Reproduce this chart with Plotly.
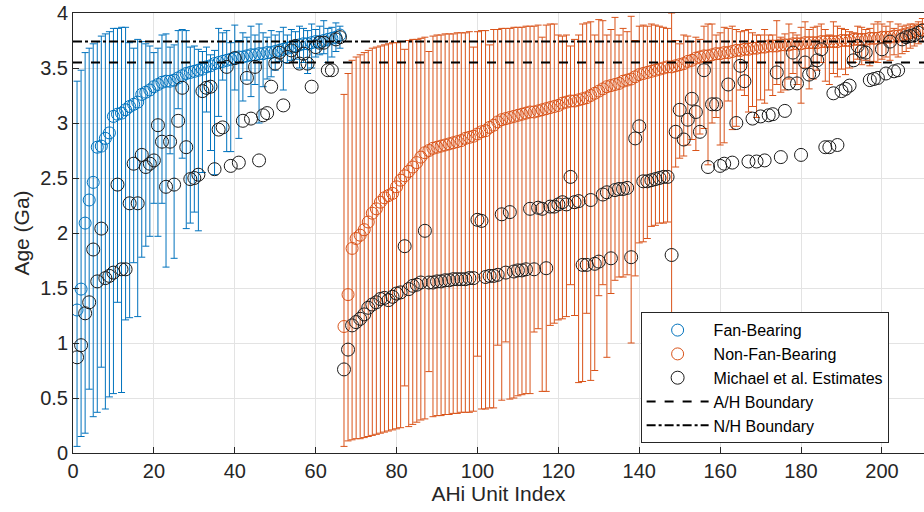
import plotly.graph_objects as go

# ---------------- data ----------------
fan_idx = list(range(1, 67))
fan_age = [1.30, 1.49, 2.09, 2.30, 2.46, 2.78, 2.79, 2.86, 2.91, 3.06,
           3.08, 3.09, 3.12, 3.15, 3.17, 3.19, 3.26, 3.28, 3.30, 3.33,
           3.35, 3.37, 3.38, 3.38, 3.39, 3.41, 3.43, 3.45, 3.46, 3.47,
           3.48, 3.49, 3.51, 3.52, 3.54, 3.55, 3.56, 3.57, 3.58, 3.59,
           3.60, 3.60, 3.61, 3.62, 3.62, 3.63, 3.63, 3.64, 3.64, 3.65,
           3.66, 3.67, 3.68, 3.69, 3.70, 3.71, 3.72, 3.72, 3.73, 3.74,
           3.74, 3.75, 3.76, 3.77, 3.78, 3.80]
fan_lo = [0.06, 0.15, 0.18, 0.58, 0.33, 0.37, 0.78, 0.40, 0.51, 0.54,
          1.37, 0.55, 1.21, 1.23, 1.73, 1.24, 1.78, 1.88, 1.97, 2.27,
          1.97, 2.27, 1.69, 2.72, 1.77, 3.13, 2.68, 2.04, 2.09, 2.19,
          2.02, 2.55, 3.10, 2.75, 2.53, 3.06, 3.39, 2.74, 2.74, 3.30,
          2.86, 3.20, 3.39, 3.24, 3.35, 3.00, 3.33, 3.40, 3.42, 3.48,
          3.56, 3.30, 3.55, 3.57, 3.58, 3.50, 3.55, 3.45, 3.50, 3.60,
          3.62, 3.63, 3.55, 3.60, 3.65, 3.68]
fan_hi = [3.38, 3.48, 3.64, 3.68, 3.72, 3.74, 3.79, 3.81, 3.83, 3.86,
          3.86, 3.87, 3.87, 3.73, 3.68, 3.76, 3.74, 3.72, 3.70, 3.64,
          3.68, 3.80, 3.81, 3.69, 3.71, 3.84, 3.85, 3.84, 3.69, 3.70,
          3.67, 3.65, 3.69, 3.62, 3.66, 3.86, 3.82, 3.84, 3.73, 3.89,
          3.75, 3.82, 3.78, 3.88, 3.80, 3.90, 3.82, 3.78, 3.84, 3.80,
          3.83, 3.87, 3.80, 3.85, 3.83, 3.88, 3.86, 3.84, 3.90, 3.85,
          3.88, 3.93, 3.86, 3.87, 3.91, 3.88]

nonfan_idx = list(range(67, 211))
nonfan_age = [1.15, 1.44, 1.86, 1.95, 1.98, 2.03, 2.10, 2.18, 2.22, 2.28,
              2.32, 2.34, 2.36, 2.42, 2.48, 2.52, 2.56, 2.60, 2.64, 2.69,
              2.73, 2.75, 2.77, 2.78, 2.79, 2.80, 2.81, 2.82, 2.83, 2.84,
              2.86, 2.87, 2.88, 2.90, 2.92, 2.93, 2.96, 2.98, 3.01, 3.03,
              3.04, 3.05, 3.06, 3.07, 3.08, 3.09, 3.10, 3.10, 3.11, 3.12,
              3.13, 3.14, 3.15, 3.16, 3.18, 3.19, 3.20, 3.20, 3.21, 3.22,
              3.23, 3.25, 3.27, 3.29, 3.31, 3.33, 3.34, 3.35, 3.36, 3.38,
              3.39, 3.40, 3.42, 3.44, 3.45, 3.46, 3.47, 3.48, 3.49, 3.50,
              3.51, 3.51, 3.52, 3.53, 3.54, 3.56, 3.57, 3.59, 3.60, 3.61,
              3.61, 3.62, 3.63, 3.63, 3.64, 3.64, 3.65, 3.66, 3.66, 3.67,
              3.67, 3.68, 3.68, 3.69, 3.69, 3.70, 3.70, 3.70, 3.71, 3.71,
              3.71, 3.72, 3.72, 3.72, 3.73, 3.73, 3.73, 3.73, 3.74, 3.74,
              3.74, 3.74, 3.74, 3.75, 3.75, 3.75, 3.76, 3.76, 3.76, 3.76,
              3.77, 3.77, 3.77, 3.78, 3.78, 3.78, 3.79, 3.79, 3.80, 3.81,
              3.82, 3.83, 3.84, 3.85]
nonfan_lo = [0.06, 0.11, 0.12, 0.13, 0.13, 0.14, 0.15, 0.16, 0.17, 0.18,
             0.19, 0.20, 0.21, 0.22, 0.23, 0.61, 0.24, 0.26, 0.28, 0.30,
             0.31, 0.74, 0.33, 0.34, 0.34, 0.35, 0.35, 0.36, 0.36, 0.37,
             0.37, 0.37, 0.38, 0.88, 0.40, 0.40, 0.41, 0.41, 0.98, 0.48,
             1.01, 0.49, 0.50, 0.52, 0.53, 0.54, 0.54, 1.10, 1.13, 0.56,
             0.56, 1.16, 1.18, 1.21, 1.22, 1.24, 1.53, 1.25, 0.64, 0.65,
             1.27, 0.66, 0.75, 1.43, 1.53, 0.87, 1.45, 1.57, 1.60, 1.60,
             1.62, 1.00, 1.61, 1.91, 1.92, 1.95, 2.06, 2.07, 2.09, 2.09,
             2.10, 0.90, 2.60, 2.68, 2.70, 2.80, 2.85, 2.75, 2.90, 2.95,
             2.62, 3.00, 3.05, 2.80, 2.82, 3.20, 2.94, 2.97, 3.30, 3.25,
             3.10, 3.15, 3.05, 3.21, 3.18, 3.30, 3.25, 3.35, 3.28, 3.30,
             3.40, 3.45, 3.35, 3.18, 3.50, 3.31, 3.40, 3.48, 3.55, 3.38,
             3.35, 3.45, 3.42, 3.49, 3.44, 3.50, 3.55, 3.58, 3.53, 3.57,
             3.52, 3.56, 3.55, 3.58, 3.60, 3.57, 3.62, 3.60, 3.63, 3.65,
             3.68, 3.70, 3.72, 3.74]
nonfan_hi = [3.26, 3.45, 3.57, 3.60, 3.62, 3.64, 3.66, 3.68, 3.69, 3.70,
             3.71, 3.72, 3.73, 3.73, 3.74, 3.67, 3.75, 3.76, 3.76, 3.77,
             3.78, 3.65, 3.79, 3.80, 3.80, 3.81, 3.81, 3.81, 3.82, 3.82,
             3.82, 3.83, 3.69, 3.83, 3.84, 3.84, 3.71, 3.85, 3.85, 3.86,
             3.86, 3.86, 3.87, 3.87, 3.87, 3.88, 3.88, 3.88, 3.89, 3.78,
             3.89, 3.90, 3.90, 3.80, 3.79, 3.80, 3.70, 3.76, 3.80, 3.90,
             3.91, 3.92, 3.80, 3.94, 3.93, 3.80, 3.85, 3.96, 3.80, 3.86,
             3.83, 3.97, 3.75, 3.88, 3.89, 3.88, 3.90, 3.89, 3.88, 3.87,
             3.86, 4.00, 3.75, 3.72, 3.80, 3.79, 3.74, 3.78, 3.76, 3.88,
             3.90, 3.90, 3.80, 3.82, 3.87, 3.86, 3.88, 3.85, 3.83, 3.84,
             3.85, 3.82, 3.80, 3.80, 3.85, 3.80, 3.80, 3.93, 3.78, 3.81,
             3.90, 3.82, 3.80, 3.87, 3.92, 3.85, 3.87, 3.88, 3.90, 3.85,
             3.80, 3.92, 3.88, 3.86, 3.85, 3.83, 3.82, 3.88, 3.87, 3.85,
             3.86, 3.90, 3.92, 3.90, 3.88, 3.92, 3.86, 3.90, 3.88, 3.89,
             3.90, 3.90, 3.92, 3.95]

michael_fan = [0.87, 0.98, 1.27, 1.37, 1.85, 1.56, 2.04, 1.59, 1.61, 1.64,
               2.44, 1.67, 1.67, 2.27, 2.63, 2.27, 2.71, 2.60, 2.63, 2.66,
               2.98, 2.83, 2.42, 2.83, 2.44, 3.02, 3.32, 2.78, 2.49, 2.50,
               2.53, 3.29, 3.32, 3.33, 2.58, 2.94, 2.96, 3.51, 2.61, 3.59,
               2.64, 3.02, 3.41, 3.04, 3.51, 2.66, 3.07, 3.09, 3.33, 3.54,
               3.64, 3.16, 3.60, 3.66, 3.70, 3.54, 3.63, 3.54, 3.33, 3.69,
               3.73, 3.73, 3.48, 3.48, 3.76, 3.78]
michael_nonfan = [0.76, 0.94, 1.16, 1.19, 1.22, 1.26, 1.32, 1.35, 1.37, 1.40,
                  1.41, 1.39, 1.42, 1.45, 1.46, 1.88, 1.49, 1.52, 1.53, 1.55,
                  2.02, 1.55, 1.55, 1.56, 1.56, 1.57, 1.57, 1.58, 1.58, 1.58,
                  1.58, 1.59, 1.59, 2.12, 2.11, 1.60, 1.61, 1.61, 1.62, 2.17,
                  1.64, 2.19, 1.65, 1.66, 1.66, 1.67, 2.22, 1.67, 2.23, 2.22,
                  1.68, 2.24, 2.24, 2.26, 2.28, 2.26, 2.51, 2.28, 2.29, 1.71,
                  1.71, 2.30, 1.72, 1.74, 2.35, 2.37, 1.77, 2.39, 2.40, 2.40,
                  2.41, 1.78, 2.86, 2.97, 2.47, 2.47, 2.48, 2.49, 2.50, 2.51,
                  2.51, 1.80, 2.92, 3.12, 2.85, 3.03, 3.22, 3.10, 2.92, 3.48,
                  2.60, 3.17, 3.17, 2.61, 2.63, 3.35, 2.64, 3.00, 3.52, 3.38,
                  2.65, 3.04, 2.65, 3.06, 2.66, 3.07, 3.08, 3.46, 2.69, 3.11,
                  3.36, 3.64, 3.36, 2.71, 3.55, 3.44, 3.46, 3.57, 3.67, 2.78,
                  2.78, 3.27, 2.80, 3.29, 3.31, 3.34, 3.57, 3.70, 3.65, 3.64,
                  3.39, 3.40, 3.41, 3.67, 3.45, 3.74, 3.47, 3.48, 3.76, 3.78,
                  3.79, 3.80, 3.82, 3.84]

ah_boundary = 3.55
nh_boundary = 3.74
x_ticks = [0, 20, 40, 60, 80, 100, 120, 140, 160, 180, 200]
y_ticks = [0, 0.5, 1, 1.5, 2, 2.5, 3, 3.5, 4]
y_tick_text = ["0", "0.5", "1", "1.5", "2", "2.5", "3", "3.5", "4"]

# ---------------- figure ----------------
BLUE = "#0072BD"
ORANGE = "#D95319"
FONT = "Liberation Sans, Arial, Helvetica, sans-serif"

fig = go.Figure()

fig.add_trace(go.Scatter(
    x=fan_idx, y=fan_age, mode="markers", name="Fan-Bearing",
    marker=dict(symbol="circle-open", size=12, color=BLUE, line=dict(width=1)),
    error_y=dict(type="data", symmetric=False,
                 array=[h - v for h, v in zip(fan_hi, fan_age)],
                 arrayminus=[v - l for v, l in zip(fan_age, fan_lo)],
                 color=BLUE, thickness=1, width=3.5),
))
fig.add_trace(go.Scatter(
    x=nonfan_idx, y=nonfan_age, mode="markers", name="Non-Fan-Bearing",
    marker=dict(symbol="circle-open", size=12, color=ORANGE, line=dict(width=1)),
    error_y=dict(type="data", symmetric=False,
                 array=[h - v for h, v in zip(nonfan_hi, nonfan_age)],
                 arrayminus=[v - l for v, l in zip(nonfan_age, nonfan_lo)],
                 color=ORANGE, thickness=1, width=3.5),
))
fig.add_trace(go.Scatter(
    x=fan_idx + nonfan_idx, y=michael_fan + michael_nonfan, mode="markers",
    name="Michael et al. Estimates",
    marker=dict(symbol="circle-open", size=13, color="#1a1a1a", line=dict(width=1)),
))
fig.add_trace(go.Scatter(
    x=[0, 215], y=[ah_boundary, ah_boundary], mode="lines", name="A/H Boundary",
    line=dict(color="black", width=2, dash="dash"),
))
fig.add_trace(go.Scatter(
    x=[0, 215], y=[nh_boundary, nh_boundary], mode="lines", name="N/H Boundary",
    line=dict(color="black", width=2, dash="dashdot"),
))

axis_common = dict(
    showgrid=True, gridcolor="#e3e3e3", gridwidth=1,
    showline=True, linecolor="#262626", linewidth=1,
    ticks="inside", ticklen=6, tickcolor="#262626",
    tickfont=dict(family=FONT, size=20, color="#262626"),
    zeroline=False,
)

fig.update_layout(
    width=924, height=512,
    margin=dict(l=73, r=0, t=13, b=59),
    paper_bgcolor="white", plot_bgcolor="white",
    font=dict(family=FONT, color="#262626"),
    showlegend=True,
    legend=dict(
        x=0.667, y=0.32, xanchor="left", yanchor="top",
        bgcolor="white", bordercolor="#262626", borderwidth=1,
        font=dict(family=FONT, size=16, color="black"),
        tracegroupgap=0, itemwidth=62,
    ),
    xaxis=dict(
        axis_common, range=[0, 210.4], tickvals=x_ticks, mirror=True,
        title=dict(text="AHi Unit Index", font=dict(family=FONT, size=21, color="#262626"), standoff=5),
    ),
    yaxis=dict(
        axis_common, range=[0, 4], tickvals=y_ticks, ticktext=y_tick_text,
        title=dict(text="Age (Ga)", font=dict(family=FONT, size=21, color="#262626"), standoff=4),
    ),
)

fig.write_html("out.html")
